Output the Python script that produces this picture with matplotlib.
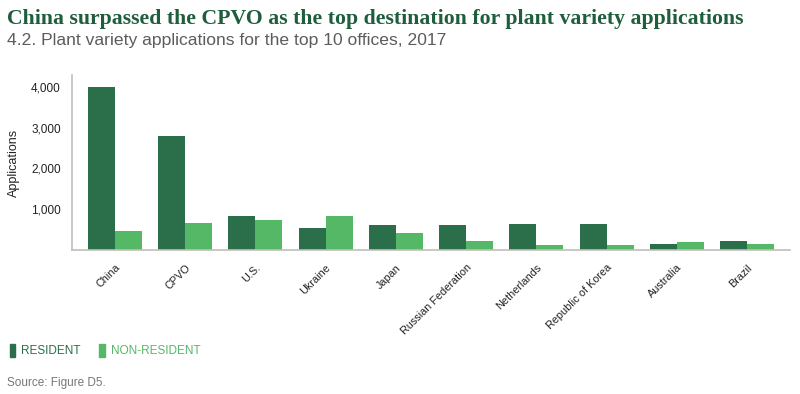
import matplotlib.pyplot as plt
from matplotlib.patches import Patch
from matplotlib.ticker import FuncFormatter
import numpy as np

offices = ["China", "CPVO", "U.S.", "Ukraine", "Japan", "Russian Federation",
           "Netherlands", "Republic of Korea", "Australia", "Brazil"]
resident = [3990, 2795, 840, 547, 620, 620, 645, 645, 154, 228]
non_resident = [473, 669, 743, 840, 424, 228, 130, 130, 203, 154]
y_ticks = [1000, 2000, 3000, 4000]

DARK = "#2a6e4a"
LIGHT = "#55b866"
GRAY_TXT = "#777777"

plt.rcParams["font.family"] = ["Liberation Sans", "DejaVu Sans"]


def main():
    fig = plt.figure(figsize=(8, 3.94), dpi=100)
    ax = fig.add_axes([0.09, 0.3655, 0.8975, 0.4441])

    x = np.arange(len(offices))
    w = 0.385
    ax.bar(x - w / 2, resident, width=w, color=DARK)
    ax.bar(x + w / 2, non_resident, width=w, color=LIGHT)

    ax.set_xlim(-0.61, 9.61)
    ax.set_ylim(0, 4290)
    ax.set_yticks(y_ticks)
    ax.yaxis.set_major_formatter(FuncFormatter(lambda v, p: f"{int(v):,}"))
    ax.set_xticks(x)
    ax.set_xticklabels(offices, rotation=45, ha="right", rotation_mode="anchor")
    ax.tick_params(axis="both", length=0, colors="#222222")
    ax.tick_params(axis="x", pad=9, labelsize=7.8)
    ax.tick_params(axis="y", pad=8, labelsize=8.5)
    ax.set_ylabel("Applications", fontsize=9, color="#222222", va="center")
    ax.yaxis.set_label_coords(-0.081, 0.5)

    for s in ["top", "right"]:
        ax.spines[s].set_visible(False)
    for s in ["left", "bottom"]:
        ax.spines[s].set_color("#c0bfb8")
        ax.spines[s].set_linewidth(1.2)

    fig.text(0.009, 0.953, "China surpassed the CPVO as the top destination for plant variety applications",
             family="Liberation Serif", fontweight="bold", fontsize=15.65, color="#1f5e3c", va="center")
    fig.text(0.009, 0.896, "4.2. Plant variety applications for the top 10 offices, 2017",
             fontsize=12.6, color="#5c5c5c", va="center")

    handles = [Patch(color=DARK), Patch(color=LIGHT)]
    leg = fig.legend(handles, ["RESIDENT", "NON-RESIDENT"], loc="center left",
                     bbox_to_anchor=(-0.001, 0.11), ncol=2, frameon=False,
                     handlelength=0.45, handleheight=1.3, handletextpad=0.5,
                     columnspacing=1.6, fontsize=8.5)
    for t, c in zip(leg.get_texts(), [DARK, LIGHT]):
        t.set_color(c)

    fig.text(0.009, 0.028, "Source: Figure D5.", fontsize=8.5, color=GRAY_TXT, va="center")

    fig.savefig("out.png", dpi=100)


if __name__ == "__main__":
    main()
